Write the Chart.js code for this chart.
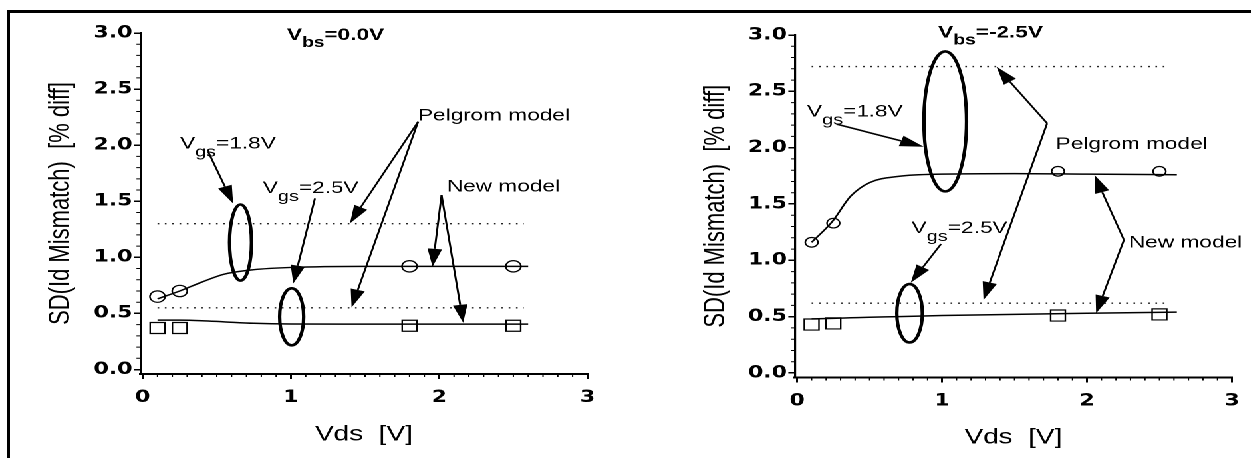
<!DOCTYPE html>
<html>
<head>
<meta charset="utf-8">
<script src="https://cdn.jsdelivr.net/npm/chart.js@4.4.1/dist/chart.umd.min.js"></script>
<style>
  html, body { margin: 0; padding: 0; background: #fff; overflow: hidden; }
  #frame { position: absolute; left: 7px; top: 10px; width: 1300px; height: 500px;
           border-top: 3px solid #000; border-left: 3px solid #000; }
  #stretch { position: absolute; left: 0; top: 0; width: 941px; height: 458px;
             transform: scaleX(1.33); transform-origin: 0 0; }
  #left { position: absolute; left: 0; top: 0; }
  #right { position: absolute; left: 460px; top: 0; }
</style>
</head>
<body>
<div id="frame"></div>
<div id="stretch">
  <canvas id="left" width="460" height="458"></canvas>
  <canvas id="right" width="481" height="458"></canvas>
</div>
<script>
// measured points (Vds in V, SD in % diff)
const vdsMeas = [0.1, 0.25, 1.8, 2.5];
const sd18Vbs0 = [0.65, 0.70, 0.92, 0.92];
const sd25Vbs0 = [0.37, 0.37, 0.39, 0.39];
const sd18Vbs25 = [1.16, 1.33, 1.79, 1.79];
const sd25Vbs25 = [0.43, 0.44, 0.51, 0.52];

// new model curves
const vdsFitVbs0 = [0.1, 0.25, 0.4, 0.55, 0.75, 1.0, 1.5, 2.0, 2.6];
const fit18Vbs0 = [0.63, 0.70, 0.78, 0.85, 0.89, 0.91, 0.92, 0.92, 0.92];
const fit25Vbs0 = [0.44, 0.44, 0.435, 0.425, 0.412, 0.406, 0.405, 0.405, 0.405];
const vdsFitVbs25 = [0.1, 0.24, 0.37, 0.5, 0.7, 1.0, 1.5, 2.0, 2.62];
const fit18Vbs25 = [1.16, 1.34, 1.57, 1.69, 1.745, 1.765, 1.77, 1.765, 1.76];
const fit25Vbs25 = [0.48, 0.485, 0.49, 0.495, 0.50, 0.51, 0.52, 0.53, 0.54];

// Pelgrom model (flat)
const pelgromVds = [0.1, 2.57];
const pelgrom18Vbs0 = [1.30, 1.30];
const pelgrom25Vbs0 = [0.55, 0.55];
const pelgrom18Vbs25 = [2.72, 2.72];
const pelgrom25Vbs25 = [0.62, 0.62];

const xTicks = [0, 1, 2, 3];
const yTicks = [0, 0.5, 1.0, 1.5, 2.0, 2.5, 3.0];

const FONT = '"Liberation Sans", Arial, sans-serif';
const toPts = (xs, ys) => xs.map((x, i) => ({ x: x, y: ys[i] }));

function drawRich(ctx, x, y, parts, bold) {
  let cx = x;
  parts.forEach(p => {
    const sub = p[1] === 'sub';
    const size = bold ? (sub ? 14.5 : 17) : (sub ? 15 : 17);
    ctx.font = (bold ? 'bold ' : '') + size + 'px ' + FONT;
    ctx.fillText(p[0], cx, y + (sub ? (bold ? 7 : 8) : 0));
    cx += ctx.measureText(p[0]).width;
  });
}

const notes = {
  id: 'notes',
  afterDatasetsDraw(chart, args, opts) {
    const { ctx, scales: { x, y } } = chart;
    const px = v => x.getPixelForValue(v), py = v => y.getPixelForValue(v);
    ctx.save();
    ctx.strokeStyle = '#000';
    ctx.fillStyle = '#000';
    (opts.rings || []).forEach(r => {
      ctx.lineWidth = 2.6;
      ctx.beginPath();
      ctx.ellipse(px(r.x), py(r.y), px(r.x + r.rx) - px(r.x), py(r.y) - py(r.y + r.ry), 0, 0, Math.PI * 2);
      ctx.stroke();
    });
    (opts.arrows || []).forEach(a => {
      const x0 = px(a[0]), y0 = py(a[1]), x1 = px(a[2]), y1 = py(a[3]);
      const ang = Math.atan2(y1 - y0, x1 - x0);
      const hl = 18, hw = 5.5;
      const bx = x1 - hl * Math.cos(ang), by = y1 - hl * Math.sin(ang);
      ctx.lineWidth = 1.5;
      ctx.beginPath();
      ctx.moveTo(x0, y0);
      ctx.lineTo(bx, by);
      ctx.stroke();
      ctx.beginPath();
      ctx.moveTo(x1, y1);
      ctx.lineTo(bx + hw * Math.sin(ang), by - hw * Math.cos(ang));
      ctx.lineTo(bx - hw * Math.sin(ang), by + hw * Math.cos(ang));
      ctx.closePath();
      ctx.fill();
    });
    ctx.textAlign = 'left';
    ctx.textBaseline = 'alphabetic';
    (opts.texts || []).forEach(t => drawRich(ctx, px(t.x), py(t.y), t.parts, t.bold));
    ctx.restore();
  }
};

const minorTicks = {
  id: 'minorTicks',
  afterDraw(chart) {
    const { ctx, chartArea: a, scales: { x, y } } = chart;
    ctx.save();
    ctx.strokeStyle = '#000';
    ctx.lineWidth = 1;
    ctx.beginPath();
    for (let i = 1; i < 30; i++) {
      if (i % 10 === 0) continue;
      const p = x.getPixelForValue(i / 10);
      ctx.moveTo(p, a.bottom);
      ctx.lineTo(p, a.bottom + 3);
    }
    for (let i = 1; i < 30; i++) {
      if (i % 5 === 0) continue;
      const p = y.getPixelForValue(i / 10);
      ctx.moveTo(a.left, p);
      ctx.lineTo(a.left - 3, p);
    }
    ctx.stroke();
    ctx.restore();
  }
};

const tickFont = { family: '"DejaVu Sans", sans-serif', size: 16.5, weight: 'bold' };

function panel(id, c) {
  const curve = (xs, ys) => ({
    data: toPts(xs, ys), showLine: true, borderColor: '#000', borderWidth: 1.5,
    pointRadius: 0, cubicInterpolationMode: 'monotone', order: 3
  });
  const dotted = ys => ({
    data: toPts(pelgromVds, ys), showLine: true, borderColor: '#222', borderWidth: 1.4,
    borderDash: [1.3, 4.2], pointRadius: 0, order: 4
  });
  const marks = (ys, style, r) => ({
    data: toPts(vdsMeas, ys), showLine: false, pointStyle: style, pointRadius: r,
    pointBorderColor: '#000', pointBackgroundColor: 'rgba(0,0,0,0)', pointBorderWidth: 1.2, order: 1
  });
  return new Chart(document.getElementById(id), {
    type: 'scatter',
    data: {
      datasets: [
        curve(c.fitX, c.fit18), curve(c.fitX, c.fit25),
        dotted(c.pel18), dotted(c.pel25),
        marks(c.sd18, 'circle', c.circleR), marks(c.sd25, 'rect', 7.8)
      ]
    },
    options: {
      responsive: false,
      animation: false,
      devicePixelRatio: 2,
      layout: { padding: { left: 5, right: c.padRight, top: c.padTop, bottom: 0 } },
      plugins: {
        legend: { display: false },
        tooltip: { enabled: false },
        notes: c.notes
      },
      scales: {
        x: {
          type: 'linear', min: -0.015, max: 3,
          afterBuildTicks: s => { s.ticks = xTicks.map(v => ({ value: v })); },
          afterFit: s => { s.height = c.xH; },
          ticks: { font: tickFont, color: '#000', padding: 9, maxRotation: 0, autoSkip: false,
                   callback: v => String(v) },
          grid: { drawOnChartArea: false, drawTicks: true, tickLength: 5, color: '#000', lineWidth: 1.5 },
          border: { color: '#000', width: 2 },
          title: { display: true, text: 'Vds  [V]', color: '#000',
                   font: { family: FONT, size: 21 }, padding: { top: 0, bottom: c.xTitlePad } }
        },
        y: {
          type: 'linear', min: -0.04, max: 3,
          afterBuildTicks: s => { s.ticks = yTicks.map(v => ({ value: v })); },
          afterFit: s => { s.width = c.yW; },
          ticks: { font: tickFont, color: '#000', padding: 1, autoSkip: false,
                   callback: v => v.toFixed(1) },
          grid: { drawOnChartArea: false, drawTicks: true, tickLength: 5, color: '#000', lineWidth: 1.5 },
          border: { color: '#000', width: 1.6 },
          title: { display: true, text: 'SD(Id Mismatch)  [% diff]', color: '#000',
                   font: { family: FONT, size: 22 }, padding: { top: c.yTitlePad, bottom: 0 } }
        }
      }
    },
    plugins: [notes, minorTicks]
  });
}

const vgs18 = [['V'], ['gs', 'sub'], ['=1.8V']];
const vgs25 = [['V'], ['gs', 'sub'], ['=2.5V']];

panel('left', {
  fitX: vdsFitVbs0, fit18: fit18Vbs0, fit25: fit25Vbs0,
  pel18: pelgrom18Vbs0, pel25: pelgrom25Vbs0,
  sd18: sd18Vbs0, sd25: sd25Vbs0, circleR: 5.7,
  padRight: 18.3, padTop: 33, xH: 84, yW: 100.6, xTitlePad: 10.9, yTitlePad: 27.7,
  notes: {
    rings: [
      { x: 0.66, y: 1.132, rx: 0.074, ry: 0.339 },
      { x: 1.005, y: 0.47, rx: 0.081, ry: 0.254 }
    ],
    arrows: [
      [0.442, 1.941, 0.61, 1.48],
      [1.162, 1.526, 1.016, 0.768],
      [1.858, 2.209, 1.398, 1.303],
      [1.858, 2.209, 1.409, 0.554],
      [2.016, 1.555, 1.955, 0.916],
      [2.016, 1.555, 2.162, 0.417]
    ],
    texts: [
      { x: 0.973, y: 2.937, bold: true, parts: [['V'], ['bs', 'sub'], ['=0.0V']] },
      { x: 0.252, y: 1.971, parts: vgs18 },
      { x: 0.81, y: 1.573, parts: vgs25 },
      { x: 1.856, y: 2.218, parts: [['Pelgrom model']] },
      { x: 2.052, y: 1.585, parts: [['New model']] }
    ]
  }
});

panel('right', {
  fitX: vdsFitVbs25, fit18: fit18Vbs25, fit25: fit25Vbs25,
  pel18: pelgrom18Vbs25, pel25: pelgrom25Vbs25,
  sd18: sd18Vbs25, sd25: sd25Vbs25, circleR: 4.8,
  padRight: 7.2, padTop: 35, xH: 80.5, yW: 132.7, xTitlePad: 7.9, yTitlePad: 60.1,
  notes: {
    rings: [
      { x: 1.022, y: 2.233, rx: 0.147, ry: 0.621 },
      { x: 0.776, y: 0.53, rx: 0.088, ry: 0.259 }
    ],
    arrows: [
      [0.272, 2.209, 0.874, 2.008],
      [1.725, 2.216, 1.376, 2.718],
      [1.725, 2.216, 1.286, 0.648],
      [2.255, 1.181, 2.052, 1.757],
      [2.255, 1.181, 2.063, 0.53],
      [0.993, 1.145, 0.784, 0.801]
    ],
    texts: [
      { x: 0.973, y: 2.978, bold: true, parts: [['V'], ['bs', 'sub'], ['=-2.5V']] },
      { x: 0.068, y: 2.275, parts: vgs18 },
      { x: 0.79, y: 1.242, parts: vgs25 },
      { x: 1.784, y: 1.987, parts: [['Pelgrom model']] },
      { x: 2.29, y: 1.115, parts: [['New model']] }
    ]
  }
});
</script>
</body>
</html>
